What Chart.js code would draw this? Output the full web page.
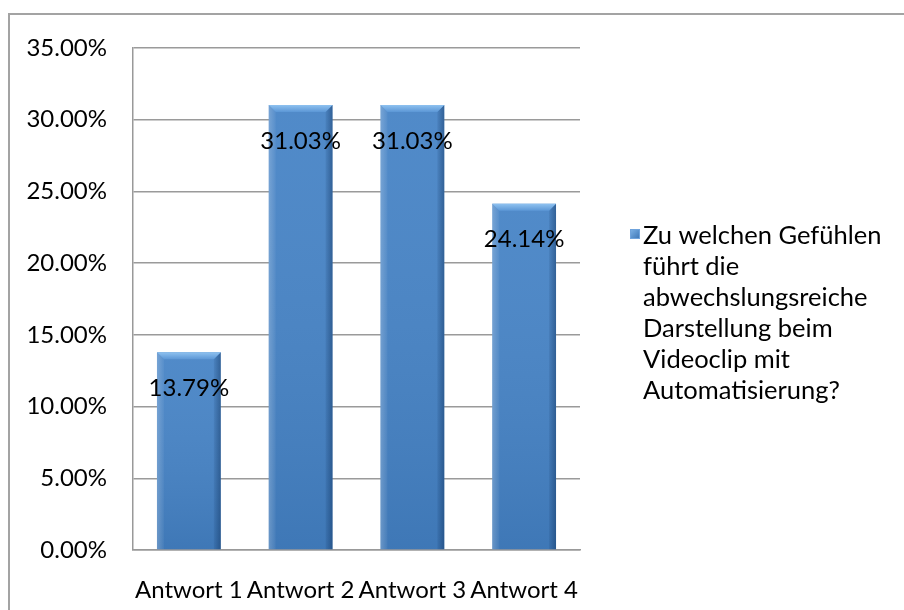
<!DOCTYPE html>
<html>
<head>
<meta charset="utf-8">
<script src="https://cdn.jsdelivr.net/npm/chart.js@4.4.1/dist/chart.umd.min.js"></script>
<style>
  html, body { margin: 0; padding: 0; background: #fff; }
  #wrap { position: relative; width: 904px; height: 610px; overflow: hidden; }
  #frame { position: absolute; left: 8px; top: 13px; right: -4px; bottom: -4px;
           border-left: 2px solid #a3a3a3; border-top: 2px solid #a3a3a3; pointer-events: none; }
  canvas { position: absolute; left: 0; top: 0; }
</style>
</head>
<body>
<div id="wrap">
  <canvas id="c" width="904" height="610"></canvas>
  <div id="frame"></div>
</div>
<script>
// Answer categories and their shares (percent)
const categories = ['Antwort 1', 'Antwort 2', 'Antwort 3', 'Antwort 4'];
const shares = [13.79, 31.03, 31.03, 24.14];
// Value axis range and step (percent)
const axisMax = 35;
const axisStep = 5;
// Series name, broken into the lines shown in the legend
const seriesName = 'Zu welchen Gefühlen führt die abwechslungsreiche Darstellung beim Videoclip mit Automatisierung?';
const legendLines = ['Zu welchen Gefühlen', 'führt die', 'abwechslungsreiche', 'Darstellung beim', 'Videoclip mit', 'Automatisierung?'];

const FONT = 'Lato, "Open Sans", sans-serif';
const FONT_SIZE = 24;
const LEGEND_FONT_SIZE = 25.5;
const BAR_BLUE = '#4784c6';
const pct = v => Number(v).toFixed(2) + '%';

// Bevelled shading over each bar, drawn from the bar elements' own geometry
const bevelPlugin = {
  id: 'bevel',
  afterDatasetsDraw(chart) {
    const ctx = chart.ctx;
    chart.getDatasetMeta(0).data.forEach(bar => {
      const p = bar.getProps(['x', 'y', 'base', 'width'], true);
      const x0 = p.x - p.width / 2, x1 = p.x + p.width / 2;
      const y0 = p.y, yb = p.base;
      const b = 7;
      ctx.save();
      // body: soft vertical shade
      const gv = ctx.createLinearGradient(0, y0, 0, yb);
      gv.addColorStop(0, 'rgba(255,255,255,0.05)');
      gv.addColorStop(1, 'rgba(0,30,70,0.12)');
      ctx.fillStyle = gv;
      ctx.fillRect(x0, y0, p.width, yb - y0);
      // left bevel (lit)
      ctx.beginPath();
      ctx.moveTo(x0, y0); ctx.lineTo(x0 + b, y0 + b); ctx.lineTo(x0 + b, yb); ctx.lineTo(x0, yb); ctx.closePath();
      const gl = ctx.createLinearGradient(x0, 0, x0 + b, 0);
      gl.addColorStop(0, 'rgba(255,255,255,0.22)');
      gl.addColorStop(1, 'rgba(255,255,255,0.04)');
      ctx.fillStyle = gl; ctx.fill();
      // right bevel (shaded)
      ctx.beginPath();
      ctx.moveTo(x1, y0); ctx.lineTo(x1 - b, y0 + b); ctx.lineTo(x1 - b, yb); ctx.lineTo(x1, yb); ctx.closePath();
      const gr = ctx.createLinearGradient(x1 - b, 0, x1, 0);
      gr.addColorStop(0, 'rgba(0,30,70,0.08)');
      gr.addColorStop(1, 'rgba(0,30,70,0.38)');
      ctx.fillStyle = gr; ctx.fill();
      // top bevel (brightest)
      ctx.beginPath();
      ctx.moveTo(x0, y0); ctx.lineTo(x1, y0); ctx.lineTo(x1 - b, y0 + b); ctx.lineTo(x0 + b, y0 + b); ctx.closePath();
      const gt = ctx.createLinearGradient(0, y0, 0, y0 + b);
      gt.addColorStop(0, '#8fc2f0');
      gt.addColorStop(1, '#5c97d6');
      ctx.fillStyle = gt; ctx.fill();
      ctx.restore();
    });
  }
};

// Value labels placed inside the top of each bar
const valueLabelPlugin = {
  id: 'valueLabels',
  afterDatasetsDraw(chart) {
    const ctx = chart.ctx;
    const values = chart.data.datasets[0].data;
    ctx.save();
    ctx.font = FONT_SIZE + 'px ' + FONT;
    ctx.fillStyle = '#000';
    ctx.textAlign = 'center';
    ctx.textBaseline = 'middle';
    chart.getDatasetMeta(0).data.forEach((bar, i) => {
      const p = bar.getProps(['x', 'y'], true);
      ctx.fillText(pct(values[i]), p.x, p.y + 36);
    });
    ctx.restore();
  }
};

// Legend to the right of the plot, with the series name wrapped over several lines
const sideLegendPlugin = {
  id: 'sideLegend',
  afterDraw(chart) {
    const ctx = chart.ctx;
    const left = chart.chartArea.right + 50;
    const top = 236;
    const step = 31;
    ctx.save();
    // marker
    const mx = left, my = top - 7, ms = 10;
    const g = ctx.createLinearGradient(mx, my, mx + ms, my + ms);
    g.addColorStop(0, '#7fb4e8');
    g.addColorStop(1, '#3a73b3');
    ctx.fillStyle = g;
    ctx.fillRect(mx, my, ms, ms);
    ctx.strokeStyle = '#6fa3dc';
    ctx.lineWidth = 1;
    ctx.strokeRect(mx + 0.5, my + 0.5, ms - 1, ms - 1);
    ctx.font = LEGEND_FONT_SIZE + 'px ' + FONT;
    ctx.fillStyle = '#000';
    ctx.textAlign = 'left';
    ctx.textBaseline = 'middle';
    legendLines.forEach((line, i) => ctx.fillText(line, left + 13, top + i * step));
    ctx.restore();
  }
};

new Chart(document.getElementById('c'), {
  type: 'bar',
  data: {
    labels: categories,
    datasets: [{
      label: seriesName,
      data: shares,
      backgroundColor: BAR_BLUE,
      borderWidth: 0,
      barPercentage: 0.571,
      categoryPercentage: 1.0
    }]
  },
  options: {
    responsive: false,
    animation: false,
    devicePixelRatio: 1,
    layout: { padding: { left: 0, top: 48, right: 324, bottom: 0 } },
    plugins: {
      legend: { display: false },
      tooltip: { enabled: false }
    },
    scales: {
      x: {
        grid: { display: false, drawTicks: false },
        border: { display: true, color: '#999', width: 1.5 },
        ticks: { color: '#000', font: { family: FONT, size: FONT_SIZE }, padding: 26, maxRotation: 0, autoSkip: false },
        afterFit(scale) { scale.height = 60; }
      },
      y: {
        min: 0,
        max: axisMax,
        grid: { color: '#9a9a9a', lineWidth: 1.5, drawTicks: false },
        border: { display: true, color: '#999', width: 1.5 },
        ticks: { stepSize: axisStep, color: '#000', font: { family: FONT, size: FONT_SIZE }, padding: 26, callback: v => pct(v) },
        afterFit(scale) { scale.width = 133; }
      }
    }
  },
  plugins: [bevelPlugin, valueLabelPlugin, sideLegendPlugin]
});
</script>
</body>
</html>
